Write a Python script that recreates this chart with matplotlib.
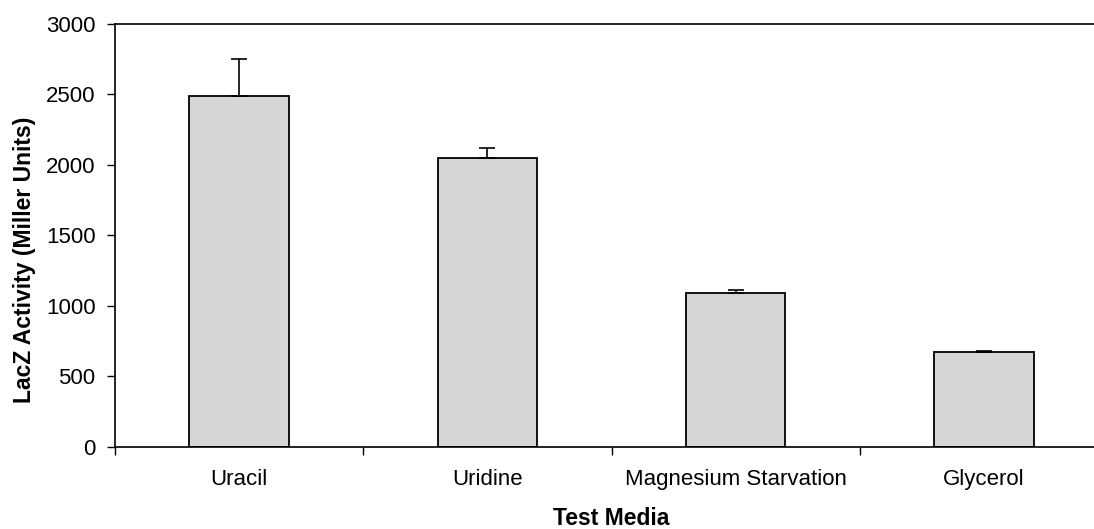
import matplotlib.pyplot as plt

# data
media = ["Uracil", "Uridine", "Magnesium Starvation", "Glycerol"]
activity = [2490, 2050, 1090, 672]
err_up = [260, 70, 22, 12]

plt.rcParams['font.family'] = ['Liberation Sans', 'DejaVu Sans']

fig = plt.figure(figsize=(10.94, 5.29), dpi=100)
ax = fig.add_axes([0.105, 0.155, 0.908, 0.8])

x = list(range(len(media)))
ax.bar(x, activity, width=0.4, color="#d6d6d6", edgecolor="black", linewidth=1.3,
       yerr=[[0] * len(err_up), err_up], capsize=6,
       error_kw=dict(elinewidth=1.2, capthick=1.2, ecolor="black"), zorder=2)

ax.set_xlim(-0.5, 3.5)
ax.set_ylim(0, 3000)
ax.set_yticks([0, 500, 1000, 1500, 2000, 2500, 3000])
ax.set_xticks([-0.5, 0.5, 1.5, 2.5, 3.5])
ax.set_xticklabels([])
ax.set_xticks(x, minor=True)
ax.set_xticklabels(media, minor=True, fontsize=16)
ax.tick_params(axis="x", which="minor", length=0, pad=16)
ax.tick_params(axis="x", which="major", direction="out", length=6, width=1)
ax.tick_params(axis="y", direction="out", length=6, width=1, labelsize=16, pad=8)

for s in ["left", "bottom", "top"]:
    ax.spines[s].set_linewidth(1.2)
ax.spines["right"].set_visible(False)

ax.set_ylabel("LacZ Activity (Miller Units)", fontsize=16.5, fontweight="bold", labelpad=7)
ax.yaxis.label.set_y(0.442)
ax.set_xlabel("Test Media", fontsize=16.5, fontweight="bold", labelpad=12)

fig.savefig("out.png", dpi=100)
